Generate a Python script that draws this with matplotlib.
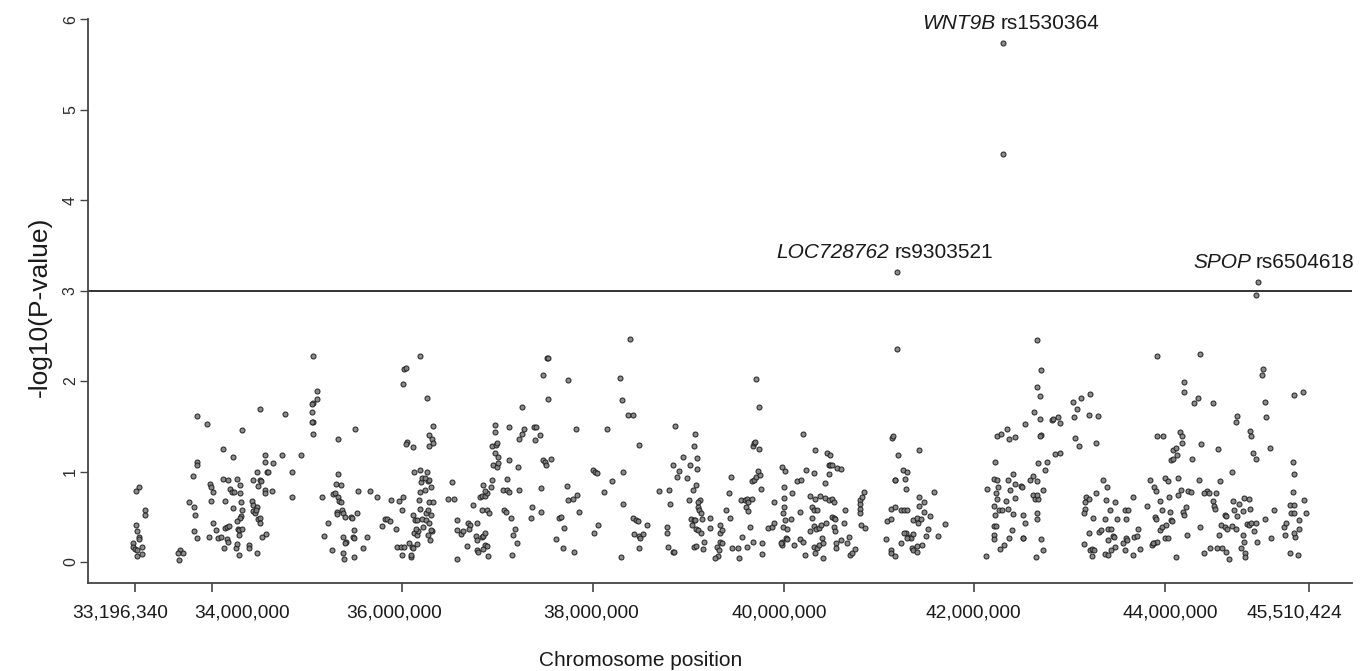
import matplotlib
matplotlib.use("Agg")
import matplotlib.pyplot as plt
import numpy as np

# SNPs: (position in Mb, -log10 P)
snps_a = [
    (33.241, 0.83), (33.206, 0.78), (33.300, 0.57), (33.300, 0.52), (33.206, 0.41), (33.213, 0.34),
    (33.241, 0.28), (33.241, 0.25), (33.178, 0.21), (33.265, 0.17), (33.178, 0.17), (33.196, 0.14),
    (33.220, 0.13), (33.265, 0.09), (33.213, 0.07),
    (33.668, 0.13), (33.696, 0.10), (33.650, 0.10), (33.661, 0.02),
    (33.843, 1.61), (33.948, 1.53), (33.850, 1.11), (33.843, 1.07), (33.808, 0.95), (33.766, 0.66),
    (33.815, 0.61), (33.829, 0.52), (33.818, 0.34), (33.850, 0.26), (33.972, 0.28), (33.983, 0.86),
    (33.990, 0.83), (34.017, 0.77), (33.990, 0.67), (34.017, 0.43), (34.045, 0.35), (34.070, 0.26),
    (34.129, 0.15), (34.094, 0.28), (34.140, 0.38), (34.157, 0.39), (34.122, 1.25), (34.220, 1.16),
    (34.115, 0.92), (34.175, 0.91), (34.140, 0.67), (34.192, 0.81), (34.210, 0.77), (34.234, 0.77),
    (34.227, 0.60), (34.185, 0.40), (34.262, 0.92), (34.297, 0.85), (34.297, 0.76), (34.304, 0.66),
    (34.315, 0.57), (34.308, 0.51), (34.297, 0.49), (34.262, 0.45), (34.280, 0.37), (34.290, 0.35),
    (34.315, 0.37), (34.287, 0.30), (34.157, 0.25), (34.168, 0.22), (34.252, 0.15), (34.290, 0.08),
    (34.262, 0.20), (34.315, 1.46),
    (34.395, 0.19), (34.395, 0.16), (34.472, 0.10), (34.430, 0.56), (34.455, 0.54), (34.420, 0.67),
    (34.437, 0.63), (34.472, 0.61), (34.483, 0.47), (34.507, 0.49), (34.507, 0.43), (34.525, 0.28),
    (34.570, 0.31), (34.462, 0.57), (34.437, 0.91), (34.472, 0.99), (34.490, 0.84), (34.507, 0.91),
    (34.518, 0.89), (34.560, 0.80), (34.560, 0.76), (34.560, 1.18), (34.560, 1.10), (34.577, 0.99),
    (34.588, 1.00), (34.640, 1.09), (34.630, 0.78), (34.507, 1.69), (34.742, 1.18), (34.773, 1.64),
    (34.846, 1.00), (34.846, 0.72), (34.934, 1.18),
    (35.060, 2.28), (35.105, 1.89), (35.102, 1.80), (35.060, 1.76), (35.049, 1.75), (35.049, 1.66),
    (35.060, 1.55), (35.049, 1.55), (35.060, 1.42),
    (35.161, 0.72), (35.217, 0.43), (35.182, 0.29), (35.266, 0.13), (35.270, 0.75), (35.294, 0.76),
    (35.329, 0.97), (35.305, 0.86), (35.354, 0.85), (35.326, 0.72), (35.340, 0.67), (35.354, 0.66),
    (35.312, 0.55), (35.312, 0.53), (35.364, 0.57), (35.382, 0.54), (35.399, 0.50), (35.459, 0.50),
    (35.469, 0.49), (35.522, 0.54), (35.382, 0.28), (35.410, 0.22), (35.399, 0.21), (35.486, 0.28),
    (35.497, 0.27), (35.493, 0.35), (35.375, 0.10), (35.389, 0.03), (35.493, 0.06), (35.591, 0.15),
    (35.626, 0.28), (35.329, 1.36), (35.504, 1.47), (35.539, 0.78), (35.661, 0.78), (35.731, 0.72),
]

snps_b = [
    (35.784, 0.40), (35.819, 0.47), (35.843, 0.47), (35.871, 0.45), (35.934, 0.37), (35.878, 0.69),
    (35.969, 0.67), (36.004, 0.72), (35.994, 0.57), (35.948, 0.17), (35.983, 0.17), (36.018, 0.17),
    (35.994, 0.08), (36.088, 0.06), (36.088, 0.08), (36.074, 0.21), (36.105, 0.17), (36.116, 0.15),
    (36.158, 0.20), (36.126, 0.32), (36.151, 0.30), (36.168, 0.34), (36.116, 0.52), (36.133, 0.46),
    (36.151, 0.46), (36.144, 0.37), (36.203, 0.48), (36.221, 0.39), (36.186, 0.59), (36.179, 0.69),
    (36.249, 0.54), (36.266, 0.57), (36.249, 0.46), (36.301, 0.52), (36.284, 0.43), (36.266, 0.30),
    (36.291, 0.24), (36.312, 0.34), (36.301, 0.35), (36.284, 0.66), (36.319, 0.66), (36.186, 0.77),
    (36.238, 0.80), (36.193, 0.88), (36.266, 0.90), (36.277, 0.91), (36.301, 0.83), (36.203, 0.93),
    (36.238, 0.93), (36.263, 1.00), (36.186, 1.02), (36.126, 1.00), (36.018, 2.13), (36.039, 2.14),
    (36.004, 1.97), (36.186, 2.28), (36.256, 1.81), (36.319, 1.50), (36.284, 1.40), (36.308, 1.36),
    (36.326, 1.32), (36.284, 1.28), (36.053, 1.33), (36.039, 1.30), (36.116, 1.27),
    (36.518, 0.88), (36.476, 0.70), (36.543, 0.70), (36.578, 0.46), (36.578, 0.03), (36.571, 0.35),
    (36.620, 0.31), (36.641, 0.34), (36.694, 0.43), (36.711, 0.41), (36.704, 0.37), (36.676, 0.18),
    (36.739, 0.63), (36.781, 0.43), (36.771, 0.29), (36.781, 0.24), (36.833, 0.28), (36.851, 0.29),
    (36.868, 0.32), (36.868, 0.19), (36.886, 0.18), (36.851, 0.14), (36.788, 0.13), (36.795, 0.11),
    (36.903, 0.07), (36.833, 0.58), (36.886, 0.58), (36.914, 0.54), (36.816, 0.72), (36.833, 0.73),
    (36.868, 0.73), (36.886, 0.76), (36.851, 0.85), (36.868, 0.79), (36.942, 0.91), (36.931, 0.83),
    (36.952, 1.07), (36.994, 1.05), (37.001, 1.09), (36.942, 1.28), (36.987, 1.29), (36.994, 1.31),
    (36.977, 1.21), (37.001, 1.16), (36.977, 1.51), (36.977, 1.44),
    (37.067, 0.57), (37.088, 0.55), (37.137, 0.49), (37.158, 0.30), (37.183, 0.37), (37.200, 0.21),
    (37.147, 0.08), (37.060, 0.80), (37.095, 0.80), (37.123, 0.77), (37.095, 0.92), (37.123, 1.13),
    (37.217, 1.05), (37.228, 0.80), (37.123, 1.49), (37.228, 1.36), (37.252, 1.41), (37.277, 1.47),
    (37.256, 1.71), (37.382, 1.49), (37.399, 1.49), (37.396, 1.35), (37.445, 1.40), (37.361, 0.61),
    (37.354, 0.49), (37.459, 0.82), (37.459, 0.55), (37.480, 1.13), (37.497, 1.10), (37.508, 1.07),
    (37.557, 1.14), (37.480, 2.07), (37.522, 2.26), (37.529, 2.25), (37.529, 1.80), (37.613, 0.25),
    (37.648, 0.49), (37.665, 0.50), (37.683, 0.15), (37.697, 0.38), (37.742, 2.01), (37.732, 0.84),
    (37.735, 0.69), (37.787, 0.70), (37.829, 0.74), (37.806, 0.11), (37.854, 0.55), (37.819, 1.47),
    (37.999, 1.02), (38.027, 1.00), (38.041, 0.98), (38.015, 0.32), (38.057, 0.41), (38.117, 0.77),
    (38.145, 1.47), (38.197, 0.89), (38.295, 0.06), (38.285, 2.03), (38.309, 1.79), (38.320, 0.99),
    (38.313, 0.64), (38.365, 1.63), (38.417, 1.63), (38.487, 1.29), (38.424, 0.49), (38.452, 0.46),
    (38.469, 0.45), (38.431, 0.31), (38.487, 0.29), (38.494, 0.26), (38.529, 0.31), (38.487, 0.15),
    (38.571, 0.41), (38.389, 2.46), (38.690, 0.78), (38.802, 0.80), (38.809, 0.64), (38.774, 0.39),
    (38.781, 0.32), (38.791, 0.17), (38.837, 0.11), (38.851, 0.11), (38.844, 1.07), (38.879, 0.94),
    (38.907, 1.01), (38.858, 1.50),
]

snps_c = [
    (38.942, 1.16), (38.984, 0.93), (39.019, 1.07), (39.072, 1.42), (39.061, 1.28), (39.089, 1.15),
    (39.089, 1.03), (39.082, 0.85), (39.047, 0.80), (39.005, 0.69), (39.124, 0.69), (39.106, 0.66),
    (39.106, 0.61), (39.117, 0.57), (39.131, 0.54), (39.141, 0.48), (39.029, 0.47), (39.057, 0.46),
    (39.075, 0.46), (39.040, 0.41), (39.082, 0.36), (39.106, 0.35), (39.131, 0.32), (39.169, 0.22),
    (39.159, 0.14), (39.057, 0.17), (39.082, 0.18), (39.229, 0.49), (39.229, 0.38), (39.299, 0.17),
    (39.327, 0.13), (39.316, 0.07), (39.281, 0.04), (39.334, 0.32), (39.351, 0.35), (39.334, 0.41),
    (39.334, 0.22), (39.351, 0.21), (39.397, 0.58), (39.432, 0.76), (39.446, 0.94), (39.439, 0.49),
    (39.456, 0.15), (39.526, 0.15), (39.537, 0.04), (39.551, 0.69), (39.596, 0.68), (39.614, 0.70),
    (39.631, 0.66), (39.670, 0.70), (39.607, 0.61), (39.631, 0.56), (39.561, 0.28), (39.621, 0.17),
    (39.649, 0.39), (39.666, 0.90), (39.691, 0.91), (39.712, 0.94), (39.754, 0.96), (39.733, 1.01),
    (39.684, 1.28), (39.694, 1.32), (39.701, 1.33), (39.740, 1.25), (39.712, 2.02), (39.740, 1.71),
    (39.768, 0.81), (39.778, 0.21), (39.778, 0.09), (39.677, 0.22), (39.841, 0.38), (39.876, 0.39),
    (39.900, 0.43), (39.904, 0.66), (39.988, 1.05), (40.016, 1.01), (40.009, 0.83), (40.002, 0.71),
    (40.002, 0.61), (39.995, 0.54), (39.995, 0.39), (40.016, 0.46), (40.041, 0.36), (39.981, 0.22),
    (39.981, 0.19), (39.971, 0.21), (40.030, 0.27), (40.037, 0.25), (40.076, 0.47), (40.093, 0.76),
    (40.114, 0.19), (40.146, 0.89), (40.184, 0.91), (40.177, 0.55), (40.177, 0.25), (40.205, 0.22),
    (40.230, 0.08), (40.205, 1.42), (40.240, 1.02), (40.275, 0.34), (40.282, 0.73), (40.299, 0.61),
    (40.299, 0.49), (40.317, 0.57), (40.324, 0.98), (40.334, 1.24), (40.334, 0.70), (40.352, 0.57),
    (40.317, 0.40), (40.324, 0.17), (40.352, 0.15), (40.369, 0.19), (40.334, 0.10), (40.345, 0.37),
    (40.376, 0.38), (40.387, 0.73), (40.397, 0.41), (40.404, 0.27), (40.411, 0.21), (40.415, 0.04),
    (40.439, 0.71), (40.456, 1.20), (40.484, 1.18), (40.474, 1.07), (40.491, 1.07), (40.508, 1.07),
    (40.439, 0.87), (40.477, 0.97), (40.449, 0.43), (40.474, 0.69), (40.508, 0.70), (40.526, 0.66),
    (40.508, 0.50), (40.526, 0.49), (40.543, 0.47), (40.533, 0.39), (40.543, 0.34), (40.554, 0.21),
    (40.554, 0.15), (40.561, 1.04), (40.603, 1.03), (40.603, 0.24), (40.641, 0.58), (40.638, 0.43),
    (40.683, 0.28), (40.666, 0.21), (40.694, 0.08), (40.718, 0.10), (40.746, 0.14), (40.799, 0.69),
    (40.799, 0.64), (40.799, 0.59), (40.806, 0.54), (40.823, 0.72), (40.841, 0.77), (40.813, 0.41),
    (40.858, 0.38),
    (41.081, 0.45), (41.123, 0.48), (41.130, 0.59), (41.140, 1.37), (41.151, 1.39), (41.165, 0.91),
    (41.175, 0.91), (41.200, 1.18), (41.186, 2.36), (41.074, 0.25), (41.123, 0.13), (41.130, 0.10),
    (41.165, 0.07), (41.175, 0.61), (41.228, 0.58), (41.256, 1.02), (41.298, 0.99), (41.270, 0.92),
    (41.280, 0.81), (41.263, 0.58), (41.298, 0.58), (41.235, 0.21), (41.280, 0.32), (41.326, 0.28),
    (41.333, 0.26), (41.361, 0.31), (41.351, 0.16), (41.361, 0.13), (41.263, 0.32), (41.291, 0.26),
    (41.361, 0.46), (41.410, 0.43), (41.396, 0.49), (41.417, 0.72), (41.417, 0.62), (41.445, 0.47),
    (41.470, 0.66), (41.417, 1.24), (41.403, 0.18), (41.396, 0.11), (41.456, 0.19), (41.470, 0.55),
    (41.498, 0.29), (41.515, 0.37), (41.540, 0.51), (41.575, 0.77), (41.624, 0.29), (41.694, 0.42),
]

snps_d = [
    (42.125, 0.07), (42.139, 0.81), (42.220, 1.11), (42.244, 1.39), (42.279, 1.42), (42.342, 1.47),
    (42.370, 1.36), (42.429, 1.38), (42.534, 1.53), (42.629, 1.66), (42.664, 2.45), (42.702, 2.12),
    (42.664, 1.93), (42.692, 1.84), (42.692, 1.58), (42.699, 1.40), (42.692, 1.39), (42.814, 1.57),
    (42.825, 1.58), (42.885, 1.60), (42.902, 1.54), (43.042, 1.77), (43.119, 1.81), (43.217, 1.86),
    (43.084, 1.69), (43.049, 1.60), (43.203, 1.63), (43.297, 1.61), (43.063, 1.37), (43.105, 1.28),
    (43.280, 1.31), (42.674, 1.09), (42.762, 1.10), (42.744, 1.02), (42.850, 1.19), (42.902, 1.21),
    (42.587, 0.91), (42.615, 0.95), (42.657, 0.89), (42.622, 0.74), (42.639, 0.70), (42.674, 0.70),
    (42.664, 0.74), (42.720, 0.80), (42.657, 0.54), (42.664, 0.47), (42.510, 0.52), (42.534, 0.43),
    (42.699, 0.25), (42.720, 0.13), (42.650, 0.05), (42.510, 0.27), (42.209, 0.92), (42.244, 0.91),
    (42.255, 0.83), (42.230, 0.76), (42.237, 0.70), (42.213, 0.62), (42.220, 0.52), (42.209, 0.40),
    (42.230, 0.40), (42.209, 0.30), (42.213, 0.25), (42.272, 0.14), (42.314, 0.19), (42.265, 0.57),
    (42.290, 0.57), (42.335, 0.67), (42.360, 0.59), (42.360, 0.91), (42.412, 0.97), (42.429, 0.86),
    (42.377, 0.80), (42.405, 0.53), (42.433, 0.71), (42.489, 0.84), (42.500, 0.83), (42.395, 0.35),
    (42.370, 0.27), (42.517, 0.27),
    (43.175, 0.72), (43.168, 0.66), (43.168, 0.59), (43.157, 0.54), (43.210, 0.70), (43.280, 0.76),
    (43.252, 0.49), (43.157, 0.20), (43.210, 0.32), (43.217, 0.13), (43.238, 0.14), (43.238, 0.07),
    (43.263, 0.13), (43.308, 0.33), (43.329, 0.35), (43.353, 0.91), (43.399, 0.83), (43.388, 0.69),
    (43.423, 0.57), (43.476, 0.66), (43.378, 0.47), (43.503, 0.47), (43.406, 0.37), (43.441, 0.36),
    (43.371, 0.09), (43.406, 0.08), (43.434, 0.13), (43.458, 0.29), (43.469, 0.28), (43.406, 0.24),
    (43.483, 0.17), (43.584, 0.57), (43.619, 0.58), (43.595, 0.47), (43.567, 0.21), (43.595, 0.26),
    (43.602, 0.24), (43.584, 0.13), (43.671, 0.72), (43.678, 0.28), (43.706, 0.29), (43.664, 0.08),
    (43.724, 0.37), (43.741, 0.14), (43.818, 0.62), (43.864, 0.19), (43.888, 0.21), (43.916, 0.22),
    (43.874, 0.21), (43.850, 0.91), (43.888, 0.83), (43.909, 0.78), (43.899, 0.50), (43.909, 0.47),
    (43.916, 1.39), (43.979, 1.39), (43.916, 2.28), (43.951, 0.67), (43.969, 0.57), (43.951, 0.35),
    (43.969, 0.39), (44.004, 0.93), (44.039, 0.89), (44.014, 0.41), (44.000, 0.26), (44.039, 0.26),
    (44.122, 0.05), (44.063, 1.13), (44.091, 1.14), (44.091, 1.24), (44.119, 1.26), (44.126, 1.18),
    (44.140, 0.93), (44.157, 1.44), (44.185, 1.39), (44.185, 1.32), (44.206, 1.99), (44.206, 1.88),
    (44.312, 1.76), (44.346, 1.81), (44.371, 2.30), (44.511, 1.76), (44.381, 1.30), (44.556, 1.25),
    (44.283, 1.14), (44.049, 0.72), (44.056, 0.55), (44.063, 0.46), (44.073, 0.45), (44.140, 0.74),
    (44.175, 0.80), (44.192, 0.55), (44.245, 0.79), (44.280, 0.77), (44.227, 0.61), (44.199, 0.52),
    (44.234, 0.30), (44.360, 0.91), (44.367, 0.39), (44.413, 0.10), (44.448, 0.79), (44.413, 0.76),
    (44.465, 0.76), (44.511, 0.67), (44.521, 0.62), (44.532, 0.59), (44.539, 0.76), (44.581, 0.89),
    (44.588, 0.41), (44.574, 0.30), (44.633, 0.52), (44.644, 0.51), (44.633, 0.39), (44.651, 0.37),
    (44.476, 0.15), (44.546, 0.15), (44.605, 0.15), (44.644, 0.11), (44.675, 0.03), (44.710, 1.00),
    (44.721, 0.67), (44.728, 0.57), (44.780, 0.64), (44.756, 0.51), (44.710, 0.40), (44.745, 0.37),
    (44.759, 1.61), (44.752, 1.55), (44.826, 0.56), (44.833, 0.71), (44.885, 0.70), (44.896, 0.59),
    (44.868, 0.42), (44.885, 0.41), (44.903, 0.43), (44.955, 0.43), (44.826, 0.30), (44.833, 0.22),
    (44.798, 0.15), (44.840, 0.10), (44.840, 0.05), (44.893, 1.45), (44.907, 1.39), (44.924, 1.20),
    (44.959, 1.14), (44.942, 0.34), (44.969, 0.22), (45.018, 2.07), (45.028, 2.13), (45.056, 1.77),
    (45.066, 1.60), (45.109, 1.26), (45.049, 0.47), (45.119, 0.27), (45.143, 0.57), (45.252, 0.39),
    (45.276, 0.43), (45.265, 0.30), (45.311, 0.10), (45.311, 0.63), (45.322, 0.54), (45.350, 1.10),
    (45.357, 0.97), (45.350, 0.77), (45.360, 1.85), (45.448, 1.88), (45.360, 0.63), (45.360, 0.54),
    (45.371, 0.28), (45.360, 0.32), (45.395, 0.08), (45.413, 0.46), (45.413, 0.37), (45.458, 0.69),
    (45.483, 0.54),
]

# annotated SNPs
lead_genes = ["LOC728762", "WNT9B", "SPOP"]
lead_ids = ["rs9303521", "rs1530364", "rs6504618"]
lead_pos = [41.186, 42.298, 44.976]
lead_val = [3.21, 5.74, 3.09]
label_val = [3.42, 5.95, 3.31]
extra_pos = [42.306, 44.958]
extra_val = [4.51, 2.95]

threshold = 3
tick_pos = [33.19634, 34.0, 36.0, 38.0, 40.0, 42.0, 44.0, 45.510424]
# the original figure nudges some position labels sideways (points)
tick_nudge = [-10.8, 21.6, -5.8, -1.1, -2.9, -0.7, 4.3, -10.1]

plt.rcParams["font.family"] = ["Liberation Sans", "DejaVu Sans"]

all_snps = np.array(snps_a + snps_b + snps_c + snps_d)
pos = np.concatenate([all_snps[:, 0], lead_pos, extra_pos])
val = np.concatenate([all_snps[:, 1], lead_val, extra_val])

fig = plt.figure(figsize=(13.71, 6.71), dpi=100)
ax = fig.add_axes([88.3 / 1371, 1 - 582.7 / 671, 1263.4 / 1371, 582.7 / 671])

ax.scatter(pos, val, s=13, facecolor="#808080", edgecolor="#1a1a1a",
           linewidths=0.75, alpha=0.9, zorder=3)
ax.axhline(threshold, color="#333333", lw=1.4, zorder=2)

for g, r, x, y in zip(lead_genes, lead_ids, lead_pos, label_val):
    ax.annotate(g, (x, y), xytext=(-5, 0), textcoords="offset points",
                ha="right", va="center", fontsize=15, style="italic", color="#1a1a1a")
    ax.annotate(r, (x, y), xytext=(-1.5, 0), textcoords="offset points",
                ha="left", va="center", fontsize=15, color="#1a1a1a")

ax.set_xlim(32.705, 45.962)
ax.set_ylim(-0.229, 6.213)

for side in ["top", "right"]:
    ax.spines[side].set_visible(False)
for side in ["left", "bottom"]:
    ax.spines[side].set_color("#444444")
    ax.spines[side].set_linewidth(1.3)
ax.spines["left"].set_bounds(-0.229, 6)

ax.set_xticks(tick_pos)
ax.set_xticklabels([])
for t, dx in zip(tick_pos, tick_nudge):
    ax.annotate(f"{int(round(t * 1e6)):,}", xy=(t, 0), xycoords=("data", "axes fraction"),
                xytext=(dx, -16), textcoords="offset points", ha="center", va="top",
                fontsize=13.8, color="#1a1a1a", annotation_clip=False)

ax.set_yticks(range(7))
ax.set_yticklabels([str(i) for i in range(7)], rotation=90, va="center", fontsize=11.5, color="#2a2a2a")
ax.tick_params(axis="x", length=6.5, width=1.2, color="#444444")
ax.tick_params(axis="y", length=6, width=1.0, color="#444444", pad=1.5)

fig.text(641 / 1371, 1 - 660 / 671, "Chromosome position", ha="center", va="center",
         fontsize=15, color="#1a1a1a")
fig.text(40 / 1371, 1 - 307 / 671, "-log10(P-value)", ha="center", va="center",
         rotation=90, fontsize=19, color="#1a1a1a")

fig.savefig("out.png", dpi=100)
